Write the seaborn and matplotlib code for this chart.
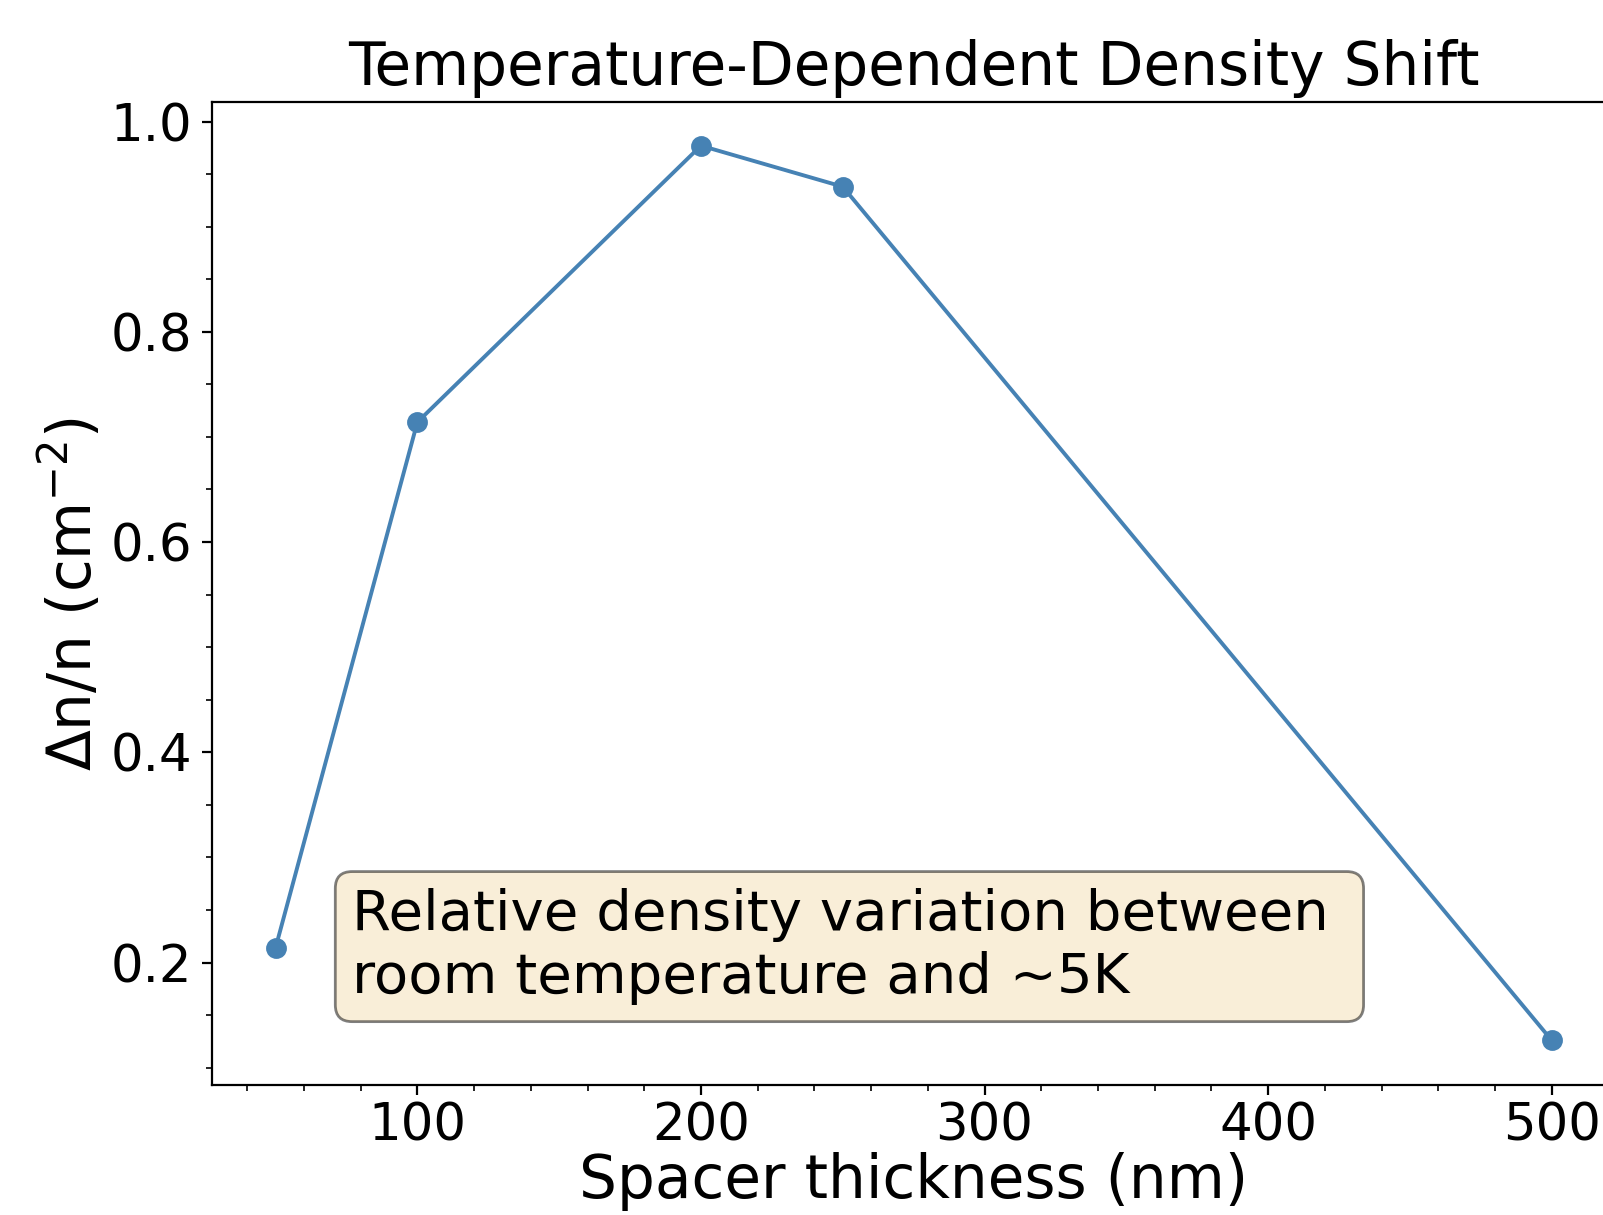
import matplotlib
matplotlib.use("Agg")
import matplotlib.pyplot as plt
import seaborn as sns
import pandas as pd

# Spacer thickness (nm) and relative density shift
thickness_nm = [50, 100, 200, 250, 500]
density_shift = [0.214, 0.714, 0.977, 0.938, 0.126]

title = "Temperature-Dependent Density Shift"
x_label = "Spacer thickness (nm)"
y_label = r"Δn/n (cm$^{-2}$)"
note = "Relative density variation between \nroom temperature and ~5K"

df = pd.DataFrame({"thickness": thickness_nm, "shift": density_shift})

plt.rcParams["font.family"] = ["DejaVu Sans"]

fig = plt.figure(figsize=(1603 / 200, 1215 / 200), dpi=200)
ax = fig.add_axes([0.1321, 0.107, 0.8757, 0.809])

sns.lineplot(
    data=df, x="thickness", y="shift", ax=ax,
    color="steelblue", marker="o", markersize=6.5,
    markeredgecolor="steelblue", markeredgewidth=1, linewidth=1.4,
)

ax.set_title(title, fontsize=21.5)
ax.set_xlabel(x_label, fontsize=21.5, labelpad=0)
ax.set_ylabel(y_label, fontsize=21.5, labelpad=2)
ax.tick_params(axis="both", which="major", labelsize=18.5)
ax.tick_params(axis="x", which="major", pad=2.5)
ax.minorticks_on()
ax.set_yticks([0.2, 0.4, 0.6, 0.8, 1.0])
ax.set_xticks([100, 200, 300, 400, 500])
ax.set_xlim(27.5, 522.5)
ax.set_ylim(0.0835, 1.0185)

ax.text(
    0.1, 0.2, note, transform=ax.transAxes, fontsize=20.2, va="top", ha="left",
    bbox=dict(boxstyle="round", facecolor="wheat", alpha=0.5),
)

fig.savefig("out.png", dpi=200)
